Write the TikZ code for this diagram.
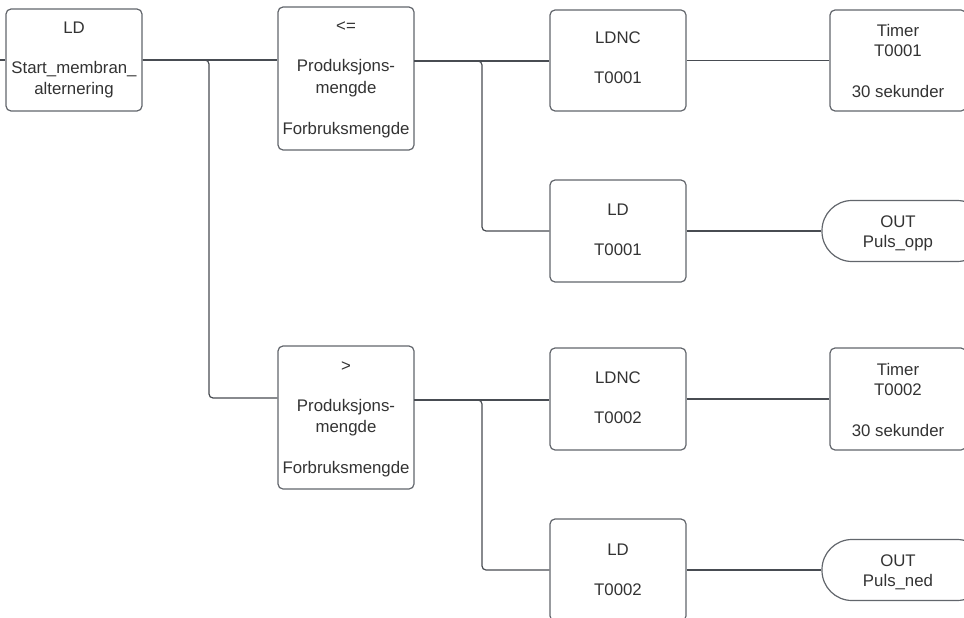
\documentclass[tikz,border=0pt]{standalone}
\usepackage{fontspec}
\setmainfont{Liberation Sans}
\definecolor{boxline}{RGB}{98,102,108}
\definecolor{wire}{RGB}{72,76,82}
\definecolor{ink}{RGB}{51,51,51}
\tikzset{
  blk/.style={draw=boxline, line width=1.2pt, rounded corners=5pt, fill=white,
              minimum width=136pt, inner sep=0pt},
  coil/.style={draw=boxline, line width=1.2pt, rounded corners=30pt, fill=white,
              minimum width=165pt, minimum height=61pt, inner sep=0pt},
  lbl/.style={anchor=base, text=ink, inner sep=0pt,
              font=\fontsize{16.8}{20}\selectfont},
  wireline/.style={draw=wire, line width=1.2pt, rounded corners=4pt},
}
\begin{document}
\begin{tikzpicture}[x=1pt, y=-1pt]
\useasboundingbox (0,0) rectangle (964,618);
\clip (0,0) rectangle (964,618);

% ---- blocks ----
\node[blk, minimum height=102pt] (ld1)   at (74,60)     {};
\node[blk, minimum height=143pt] (cmp1)  at (346,78.5)  {};
\node[blk, minimum height=101pt] (ldnc1) at (618,60.5)  {};
\node[blk, minimum height=101pt] (tim1)  at (898,60.5)  {};
\node[blk, minimum height=102pt] (ld2)   at (618,231)   {};
\node[coil] (out1) at (904.5,231) {};

\node[blk, minimum height=143pt] (cmp2)  at (346,417.5) {};
\node[blk, minimum height=102pt] (ldnc2) at (618,399)   {};
\node[blk, minimum height=102pt] (tim2)  at (898,399)   {};
\node[blk, minimum height=102pt] (ld3)   at (618,570)   {};
\node[coil] (out2) at (904.5,570) {};

% ---- texts ----
\node[lbl] (ld1a) at (74,34) {LD};
\node[lbl] (ld1b) at (74,74) {Start\_membran\_};
\node[lbl] (ld1c) at (74,94) {alternering};

\node[lbl] (cmp1a) at (346,32)  {<=};
\node[lbl] (cmp1b) at (346,72)  {Produksjons-};
\node[lbl] (cmp1c) at (346,93)  {mengde};
\node[lbl] (cmp1d) at (346,134) {Forbruksmengde};

\node[lbl] (ldnc1a) at (618,44) {LDNC};
\node[lbl] (ldnc1b) at (618,84) {T0001};

\node[lbl] (tim1a) at (898,37) {Timer};
\node[lbl] (tim1b) at (898,57) {T0001};
\node[lbl] (tim1c) at (898,97) {30 sekunder};

\node[lbl] (ld2a) at (618,215) {LD};
\node[lbl] (ld2b) at (618,255) {T0001};

\node[lbl] (out1a) at (898,227) {OUT};
\node[lbl] (out1b) at (898,247) {Puls\_opp};

\node[lbl] (cmp2a) at (346,371) {>};
\node[lbl] (cmp2b) at (346,411) {Produksjons-};
\node[lbl] (cmp2c) at (346,432) {mengde};
\node[lbl] (cmp2d) at (346,473) {Forbruksmengde};

\node[lbl] (ldnc2a) at (618,383) {LDNC};
\node[lbl] (ldnc2b) at (618,423) {T0002};

\node[lbl] (tim2a) at (898,375) {Timer};
\node[lbl] (tim2b) at (898,395) {T0002};
\node[lbl] (tim2c) at (898,436) {30 sekunder};

\node[lbl] (ld3a) at (618,555) {LD};
\node[lbl] (ld3b) at (618,595) {T0002};

\node[lbl] (out2a) at (898,566) {OUT};
\node[lbl] (out2b) at (898,586) {Puls\_ned};

% ---- rungs ----
\coordinate (rail) at (0,60);
\coordinate (c1out) at (414,61);
\coordinate (c2out) at (414,400);

\path[wireline] (rail) -- (ld1.west);
\path[wireline] (ld1.east) -- (ld1.east -| cmp1.west);
\path[wireline] (ld1.east) -- (209,60) -- (209,398) -- (cmp2.west |- 0,398);

\path[wireline] (c1out) -- (c1out -| ldnc1.west);
\path[wireline] (c1out) -- (482,61) -- (482,231) -- (ld2.west);
\path[wireline] (ldnc1.east) -- (tim1.west);
\path[wireline] (ld2.east) -- (out1.west);

\path[wireline] (c2out) -- (c2out -| ldnc2.west);
\path[wireline] (c2out) -- (482,400) -- (482,570) -- (ld3.west);
\path[wireline] (ldnc2.east) -- (tim2.west);
\path[wireline] (ld3.east) -- (out2.west);
\end{tikzpicture}
\end{document}
